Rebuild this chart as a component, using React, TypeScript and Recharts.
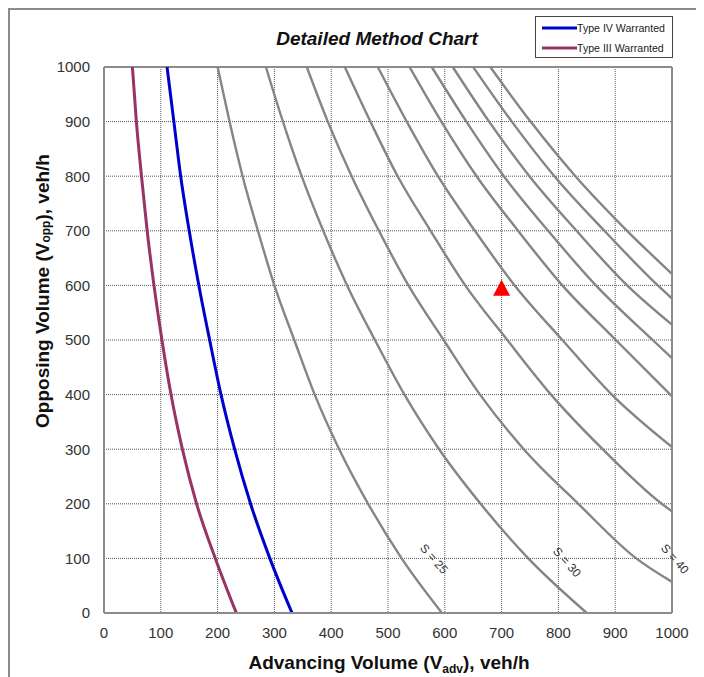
import React from 'react'
import {
  ComposedChart,
  Line,
  Scatter,
  XAxis,
  YAxis,
  CartesianGrid,
  ReferenceLine,
  ReferenceDot,
  Legend,
  Label
} from 'recharts'

const FONT = '"Liberation Sans", Arial, Helvetica, sans-serif'

const X_TICKS = [0, 100, 200, 300, 400, 500, 600, 700, 800, 900, 1000]
const Y_TICKS = [0, 100, 200, 300, 400, 500, 600, 700, 800, 900, 1000]

// gray S curves, [advancing, opposing] pairs
const S_CURVE_1 = [[200, 1000], [221, 900], [244, 800], [271, 700], [300, 600], [335, 500], [371, 400], [414, 300], [465, 200], [524, 100], [595, 0]]
const S_CURVE_2 = [[285, 1000], [315, 900], [348, 800], [386, 700], [428, 600], [477, 500], [529, 400], [590, 300], [663, 200], [747, 100], [850, 0]]
const S_CURVE_3 = [[357, 1000], [394, 900], [436, 800], [484, 700], [536, 600], [598, 500], [662, 400], [739, 300], [835, 200], [937, 100], [1000, 57]]
const S_CURVE_4 = [[424, 1000], [469, 900], [517, 800], [575, 700], [636, 600], [710, 500], [787, 400], [878, 300], [982, 200], [1000, 186]]
const S_CURVE_5 = [[482, 1000], [533, 900], [588, 800], [653, 700], [723, 600], [807, 500], [894, 400], [1000, 304]]
const S_CURVE_6 = [[538, 1000], [594, 900], [656, 800], [729, 700], [807, 600], [901, 500], [1000, 397]]
const S_CURVE_7 = [[577, 1000], [638, 900], [704, 800], [782, 700], [866, 600], [966, 500], [1000, 467]]
const S_CURVE_8 = [[614, 1000], [678, 900], [749, 800], [832, 700], [921, 600], [1000, 528]]
const S_CURVE_9 = [[650, 1000], [718, 900], [793, 800], [881, 700], [975, 600], [1000, 576]]
const S_CURVE_10 = [[680, 1000], [751, 900], [830, 800], [921, 700], [1000, 621]]

const S_CURVES = [S_CURVE_1, S_CURVE_2, S_CURVE_3, S_CURVE_4, S_CURVE_5, S_CURVE_6, S_CURVE_7, S_CURVE_8, S_CURVE_9, S_CURVE_10]

const TYPE_IV = [[111, 1000], [123, 900], [135, 800], [150, 700], [167, 600], [186, 500], [206, 400], [230, 300], [258, 200], [292, 100], [331, 0]]
const TYPE_III = [[50, 1000], [57, 900], [66, 800], [76, 700], [88, 600], [102, 500], [118, 400], [138, 300], [163, 200], [196, 100], [233, 0]]

const LEGEND_NAMES = ['Type IV Warranted', 'Type III Warranted']
const LEGEND_COLORS = ['#0000CC', '#993366']

const S_LABELS = ['S = 25', 'S = 30', 'S = 40']
const S_LABEL_ADV = [581, 815, 1005]
const S_LABEL_OPP = [99, 93, 99]

// the red site marker
const SITE_ADV = [700]
const SITE_OPP = [592]

const toRows = (pts: number[][]) => pts.map(([adv, opp]) => ({ adv, opp }))

const siteRows = SITE_ADV.map((adv, i) => ({ adv, opp: SITE_OPP[i] }))

const Triangle = (props: any) => {
  const { cx, cy } = props
  return (
    <polygon
      points={`${cx},${cy - 10} ${cx - 8.5},${cy + 6} ${cx + 8.5},${cy + 6}`}
      fill="#FF0000"
    />
  )
}

const renderLegend = () => (
  <div
    style={{
      width: 138,
      height: 42,
      border: '1px solid #444',
      boxSizing: 'border-box',
      background: '#fff',
      fontFamily: FONT,
      fontSize: 10.6,
      color: '#222',
      paddingTop: 1
    }}
  >
    {LEGEND_NAMES.map((name, i) => (
      <div key={name} style={{ display: 'flex', alignItems: 'center', height: 20 }}>
        <svg width={35} height={6} style={{ marginLeft: 6 }}>
          <line x1={0} y1={3} x2={35} y2={3} stroke={LEGEND_COLORS[i]} strokeWidth={3} />
        </svg>
        <span>{name}</span>
      </div>
    ))}
  </div>
)

export default function App() {
  return (
    <div style={{ position: 'relative', width: 696, height: 669, fontFamily: FONT }}>
      {/* outer chart frame */}
      <div
        style={{
          position: 'absolute',
          left: 0,
          top: 0,
          width: 696,
          height: 669,
          borderTop: '2px solid #8c8c8c',
          borderLeft: '2px solid #8c8c8c',
          boxSizing: 'border-box'
        }}
      />
      <div
        style={{
          position: 'absolute',
          left: 249,
          top: 21,
          width: 240,
          lineHeight: '20px',
          textAlign: 'center',
          fontSize: 19,
          fontWeight: 'bold',
          fontStyle: 'italic',
          color: '#111'
        }}
      >
        Detailed Method Chart
      </div>
      <ComposedChart width={696} height={669} margin={{ top: 59, right: 32, bottom: 34, left: 36 }}>
        <CartesianGrid stroke="#555" strokeDasharray="1 1" />
        <XAxis
          dataKey="adv"
          type="number"
          domain={[0, 1000]}
          ticks={X_TICKS}
          interval={0}
          height={30}
          tickLine={false}
          tickMargin={8}
          axisLine={{ stroke: '#8c8c8c', strokeWidth: 2 }}
          tick={{ fill: '#333', fontSize: 15, fontFamily: FONT }}
        >
          <Label
            content={() => (
              <text x={381} y={661} textAnchor="middle" fontSize={19} fontWeight="bold" fill="#111" fontFamily={FONT}>
                Advancing Volume (V<tspan fontSize={12} dy={4}>adv</tspan>
                <tspan dy={-4}>), veh/h</tspan>
              </text>
            )}
          />
        </XAxis>
        <YAxis
          dataKey="opp"
          type="number"
          domain={[0, 1000]}
          ticks={Y_TICKS}
          interval={0}
          width={60}
          tickLine={false}
          tickMargin={8}
          axisLine={{ stroke: '#8c8c8c', strokeWidth: 2 }}
          tick={{ fill: '#333', fontSize: 15, fontFamily: FONT }}
        >
          <Label
            content={() => (
              <text
                x={34}
                y={283}
                transform="rotate(-90 34 283)"
                textAnchor="middle"
                dominantBaseline="central"
                fontSize={19}
                fontWeight="bold"
                fill="#111"
                fontFamily={FONT}
              >
                Opposing Volume (V<tspan fontSize={12} dy={4}>opp</tspan>
                <tspan dy={-4}>), veh/h</tspan>
              </text>
            )}
          />
        </YAxis>
        <ReferenceLine x={1000} stroke="#8c8c8c" strokeWidth={2} />
        <ReferenceLine y={1000} stroke="#8c8c8c" strokeWidth={2} />

        {S_CURVES.map((curve, i) => (
          <Line
            key={`s-${i}`}
            data={toRows(curve)}
            dataKey="opp"
            type="monotone"
            stroke="#858585"
            strokeWidth={2.4}
            dot={false}
            legendType="none"
            isAnimationActive={false}
          />
        ))}
        <Line
          data={toRows(TYPE_IV)}
          dataKey="opp"
          name={LEGEND_NAMES[0]}
          type="monotone"
          stroke={LEGEND_COLORS[0]}
          strokeWidth={3}
          dot={false}
          isAnimationActive={false}
        />
        <Line
          data={toRows(TYPE_III)}
          dataKey="opp"
          name={LEGEND_NAMES[1]}
          type="monotone"
          stroke={LEGEND_COLORS[1]}
          strokeWidth={3}
          dot={false}
          isAnimationActive={false}
        />
        <Scatter data={siteRows} dataKey="opp" shape={Triangle} legendType="none" isAnimationActive={false} />

        {S_LABELS.map((label, i) => (
          <ReferenceDot
            key={label}
            x={S_LABEL_ADV[i]}
            y={S_LABEL_OPP[i]}
            ifOverflow="visible"
            shape={(p: any) => (
              <text
                x={p.cx}
                y={p.cy}
                transform={`rotate(48 ${p.cx} ${p.cy})`}
                textAnchor="middle"
                dominantBaseline="central"
                fontSize={12}
                fill="#333"
                fontFamily={FONT}
              >
                {label}
              </text>
            )}
          />
        ))}

        <Legend
          content={renderLegend}
          layout="vertical"
          align="center"
          verticalAlign="middle"
          wrapperStyle={{ left: 527, top: 8, width: 138, height: 42 }}
        />
      </ComposedChart>
    </div>
  )
}
